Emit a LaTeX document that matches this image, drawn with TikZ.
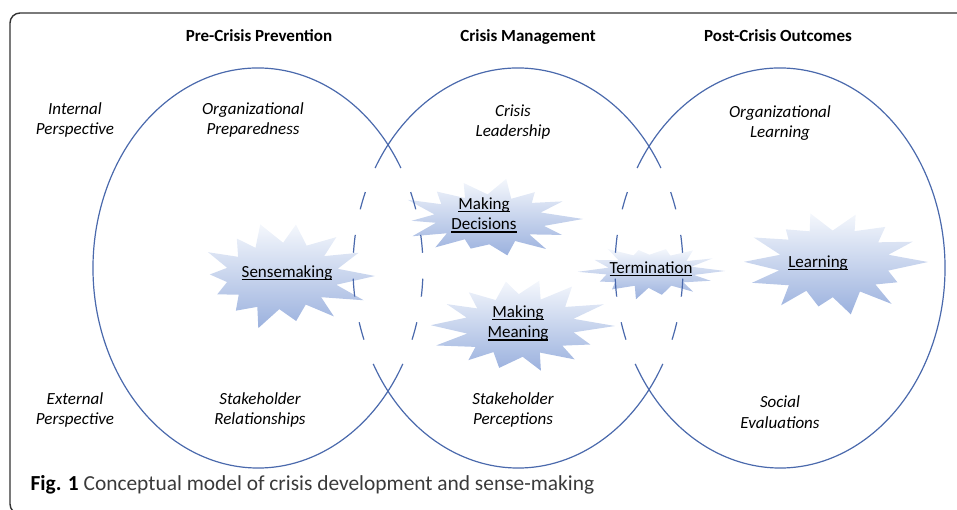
\documentclass[tikz,border=0pt]{standalone}
\usepackage{fontspec}
\setmainfont{Carlito}
\usetikzlibrary{calc}
\definecolor{ringblue}{HTML}{4A69AC}
\definecolor{burstblue}{HTML}{9BB1DE}
\definecolor{burstlight}{HTML}{F4F7FC}
\definecolor{framegray}{HTML}{333333}
\definecolor{captiongray}{HTML}{3A3A3A}
\tikzset{
	ring/.style = {ringblue, line width=1.2pt},
	overlap/.style = {ring, dash pattern=on 18pt off 26pt, dash phase=18pt},
	heading/.style = {font=\fontsize{17}{20}\selectfont\bfseries},
	aspect/.style = {font=\fontsize{17}{20.5}\selectfont\itshape, align=center},
	activity/.style = {font=\fontsize{17}{20.5}\selectfont, align=center},
}
\newcommand\term[1]{\setbox0=\hbox{#1}\rlap{\rule[-3pt]{\wd0}{1.2pt}}\box0}
% centre, x radius, y radius, seed
\newcommand\burst[4]{%
	\pgfmathsetseed{#4}
	\shade[top color=burstlight, bottom color=burstblue]
		($(#1)+(#2,0)$)
		\foreach \k [evaluate=\k as \f using {ifthenelse(mod(\k,2)==0, 0.74+0.26*rnd, 0.55+0.07*rnd)},
		             evaluate=\k as \a using {\k*360/28+7*(rnd-0.5)}] in {1,...,27}
			{ -- ($(#1)+({#2*\f*cos(\a)},{#3*\f*sin(\a)})$) }
		-- cycle;
}

\begin{document}
\begin{tikzpicture}[x=1pt, y=1pt]
	\useasboundingbox (0,0) rectangle (957,510);
	\draw[framegray, line width=1.4pt, rounded corners=10pt] (10,-4) rectangle (975,497);

	\coordinate (pre) at (258,242);
	\coordinate (mid) at (518,242);
	\coordinate (post) at (780,242);

	% sense-making bursts
	\coordinate (bsense) at (281,234);
	\coordinate (bdecide) at (488,291);
	\coordinate (bmeaning) at (520,184);
	\coordinate (bterm) at (651,239);
	\coordinate (blearn) at (833,248);
	\burst{bsense}{94}{57}{11}
	\burst{bdecide}{95}{41}{23}
	\burst{bmeaning}{95}{52}{37}
	\burst{bterm}{74}{29}{41}
	\burst{blearn}{95}{57}{53}

	% the three phases
	\draw[ring] (pre) ++(30:165 and 200) arc[start angle=30, end angle=330, x radius=165, y radius=200];
	\draw[overlap] (pre) ++(30:165 and 200) arc[start angle=30, end angle=-30, x radius=165, y radius=200];
	\draw[ring] (mid) ++(30:165 and 200) arc[start angle=30, end angle=150, x radius=165, y radius=200];
	\draw[ring] (mid) ++(210:165 and 200) arc[start angle=210, end angle=330, x radius=165, y radius=200];
	\draw[overlap] (mid) ++(150:165 and 200) arc[start angle=150, end angle=210, x radius=165, y radius=200];
	\draw[overlap] (mid) ++(30:165 and 200) arc[start angle=30, end angle=-30, x radius=165, y radius=200];
	\draw[ring] (post) ++(210:165 and 200) arc[start angle=-150, end angle=150, x radius=165, y radius=200];
	\draw[overlap] (post) ++(150:165 and 200) arc[start angle=150, end angle=210, x radius=165, y radius=200];

	\node[heading, anchor=base] (hpre) at (259,468) {Pre-Crisis Prevention};
	\node[heading, anchor=base] (hmid) at (528,468) {Crisis Management};
	\node[heading, anchor=base] (hpost) at (778,468) {Post-Crisis Outcomes};

	\node[aspect] (internal) at (75,390) {Internal\\Perspective};
	\node[aspect] (external) at (75,100) {External\\Perspective};
	\node[aspect] (prepared) at (253,390) {Organizational\\Preparedness};
	\node[aspect] (leader) at (513,388) {Crisis\\Leadership};
	\node[aspect] (orglearn) at (780,387) {Organizational\\Learning};
	\node[aspect] (relation) at (260,100) {Stakeholder\\Relationships};
	\node[aspect] (percept) at (513,100) {Stakeholder\\Perceptions};
	\node[aspect] (social) at (780,98) {Social\\Evaluations};

	\node[activity] (sense) at (287,237) {\term{Sensemaking}};
	\node[activity] (decide) at (484,295) {\term{Making}\\\term{Decisions}};
	\node[activity] (meaning) at (518,187) {\term{Making}\\\term{Meaning}};
	\node[activity] (term) at (651,241) {\term{Termination}};
	\node[activity] (learn) at (818,247) {\term{Learning}};

	\node[anchor=base west, font=\fontsize{21.4}{25}\selectfont, text=captiongray] (caption) at (27,19)
		{\textcolor{black}{\textbf{Fig. 1}} Conceptual model of crisis development and sense-making};
\end{tikzpicture}
\end{document}
